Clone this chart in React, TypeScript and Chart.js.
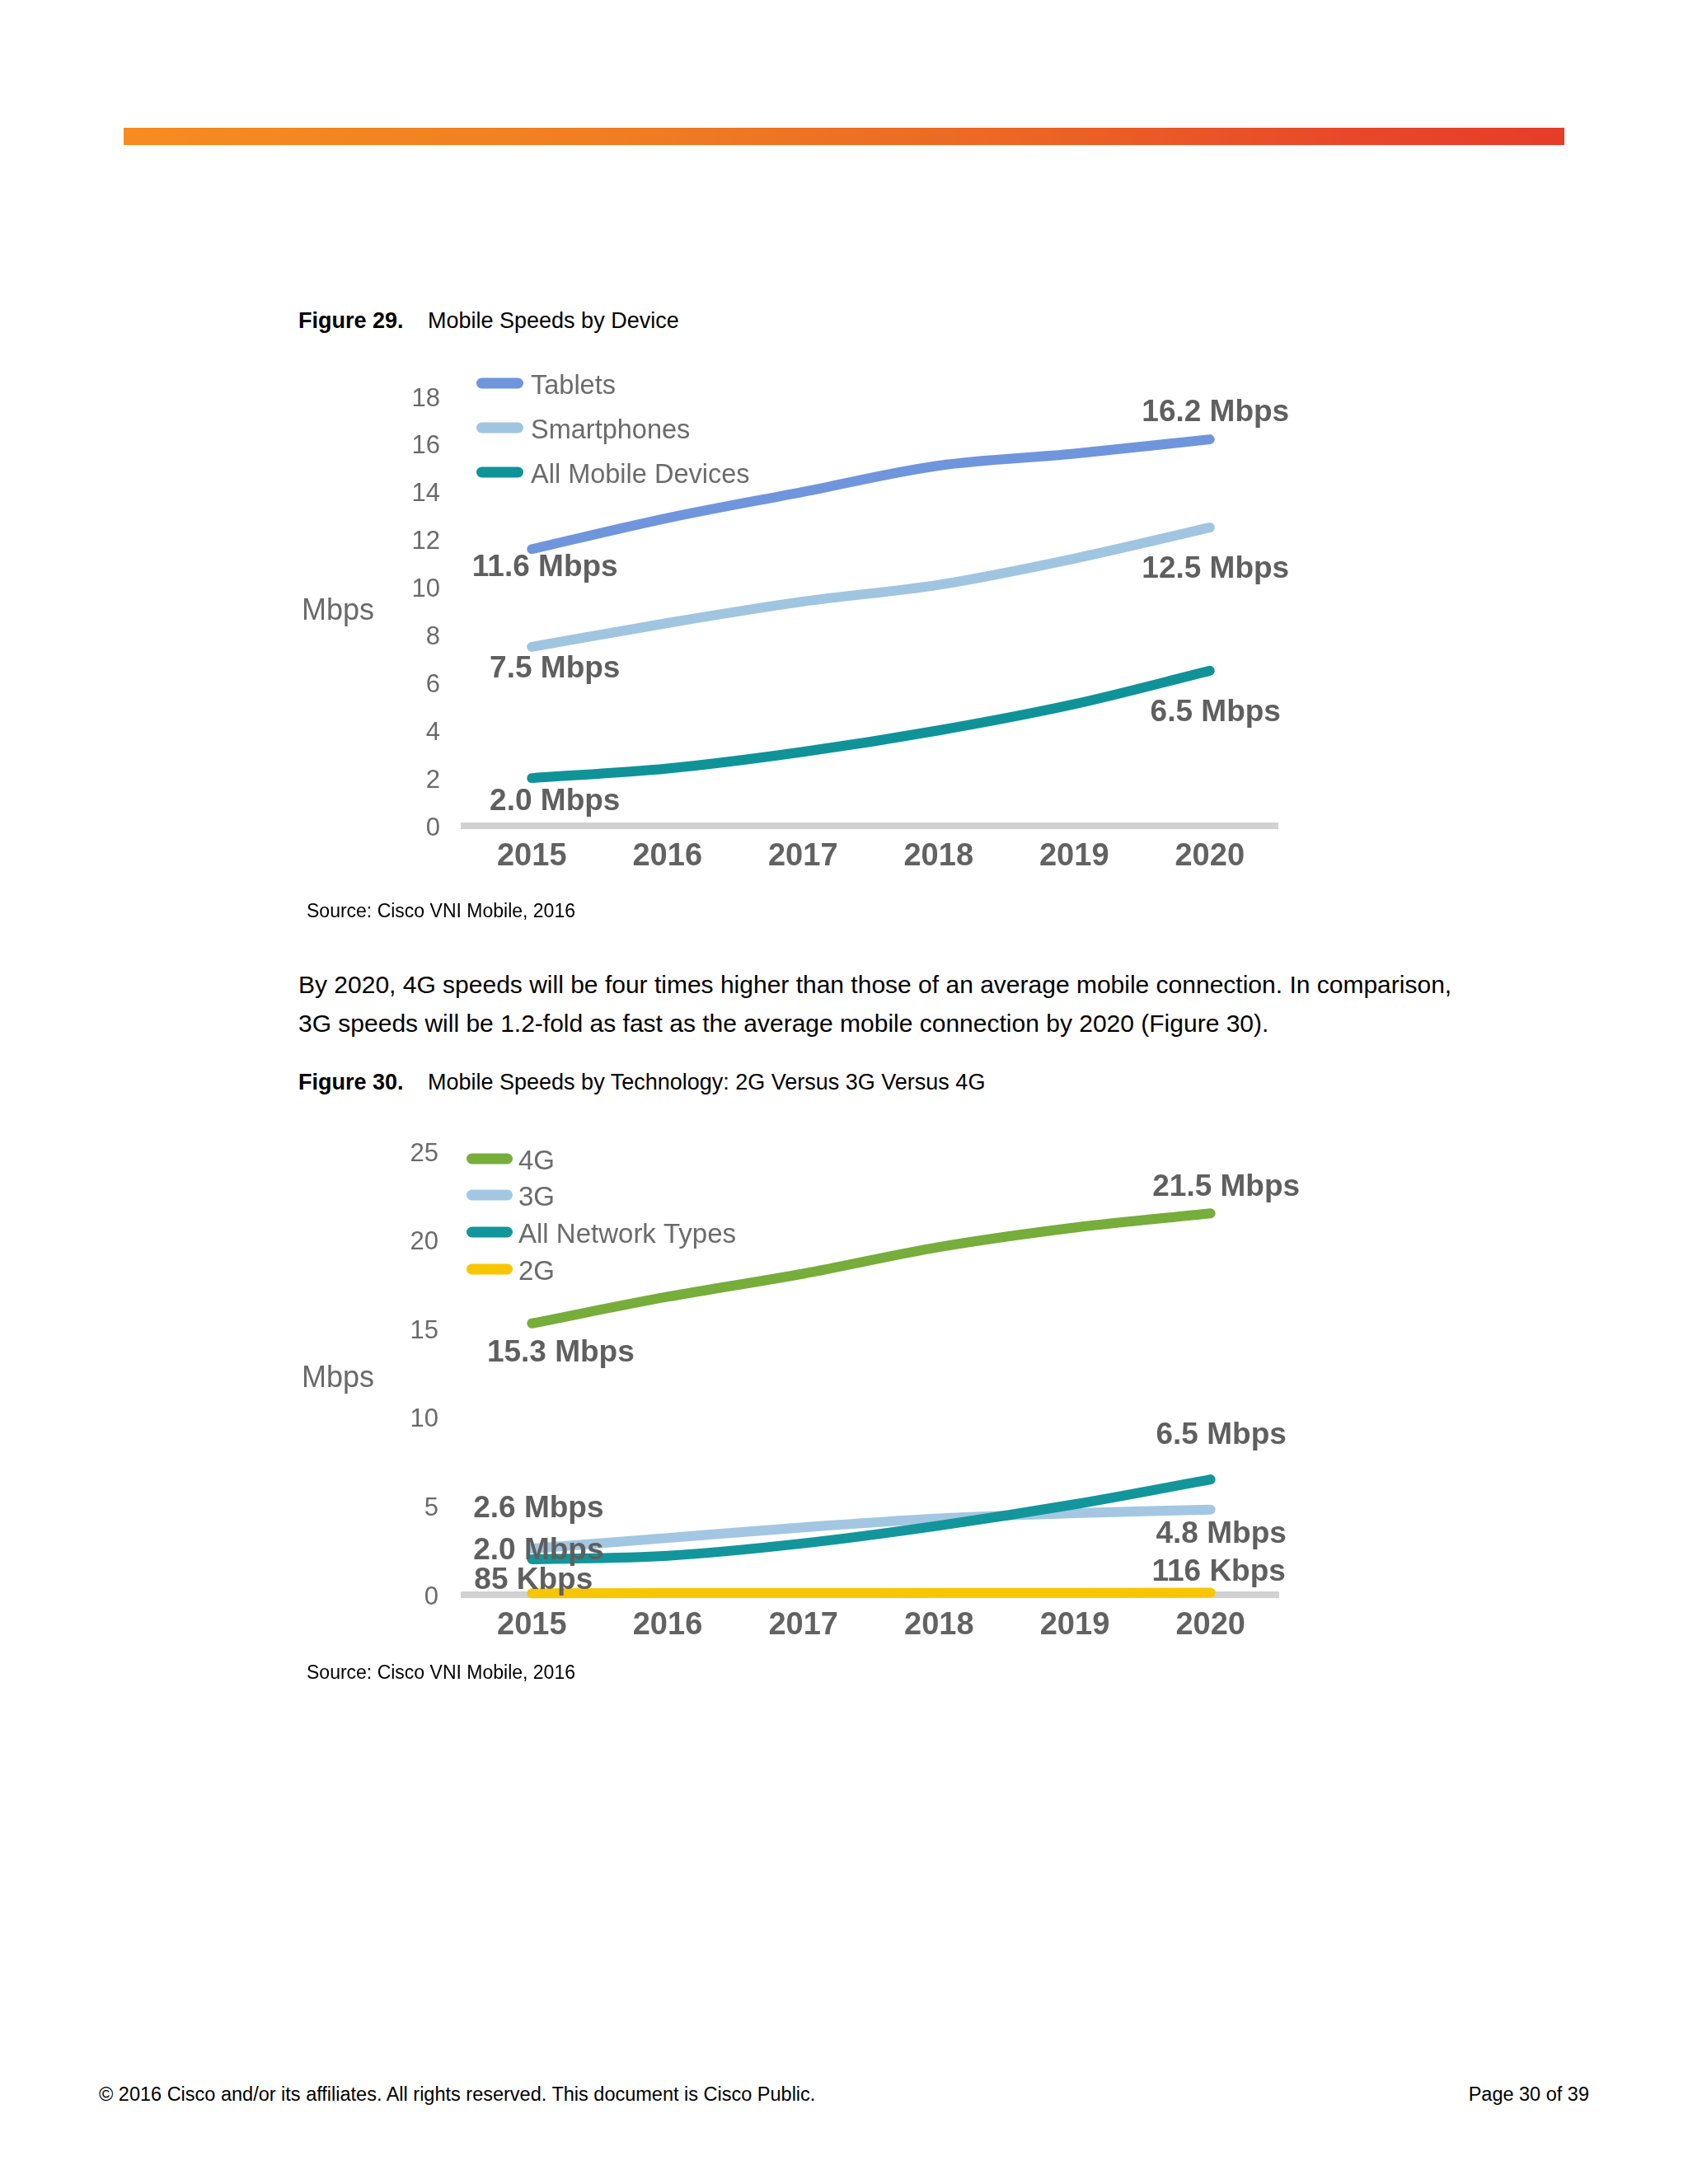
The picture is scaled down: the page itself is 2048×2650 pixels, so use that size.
import React, { useEffect, useRef } from 'react';
import { Chart, registerables } from 'chart.js';

Chart.register(...registerables);

// ---------- DATA ----------
const years = ['2015', '2016', '2017', '2018', '2019', '2020'];

// Figure 29 – Mobile speeds by device (Mbps)
const tablets = [11.6, 12.9, 14.0, 15.1, 15.6, 16.2];
const smartphones = [7.5, 8.5, 9.4, 10.1, 11.2, 12.5];
const allMobileDevices = [2.0, 2.4, 3.1, 4.0, 5.1, 6.5];
const deviceNames = ['Tablets', 'Smartphones', 'All Mobile Devices'];
const deviceStartLabels = ['11.6 Mbps', '7.5 Mbps', '2.0 Mbps'];
const deviceEndLabels = ['16.2 Mbps', '12.5 Mbps', '6.5 Mbps'];
const deviceYMax = 18;
const deviceYStep = 2;

// Figure 30 – Mobile speeds by technology (Mbps)
const speeds4G = [15.3, 16.8, 18.1, 19.6, 20.7, 21.5];
const speeds3G = [2.6, 3.2, 3.8, 4.3, 4.6, 4.8];
const allNetworkTypes = [2.0, 2.2, 2.9, 3.9, 5.1, 6.5];
const speeds2G = [0.085, 0.09, 0.095, 0.1, 0.108, 0.116];
const techNames = ['4G', '3G', 'All Network Types', '2G'];
const techStartLabels = ['15.3 Mbps', '2.6 Mbps', '2.0 Mbps', '85 Kbps'];
const techEndLabels = ['21.5 Mbps', '4.8 Mbps', '6.5 Mbps', '116 Kbps'];
const techYMax = 25;
const techYStep = 5;

const axisTitle = 'Mbps';

// ---------- STYLES ----------
const FONT = '"Liberation Sans", Arial, Helvetica, sans-serif';

type SeriesDef = {
  name: string;
  data: number[];
  color: string;
  order: number;
  start: string;
  end: string;
  startOff: [number, number];
  endOff: [number, number];
};

type ChartProps = {
  left: number;
  top: number;
  width: number;
  height: number;
  series: SeriesDef[];
  yMax: number;
  yStep: number;
  yAxisWidth: number;
  xAxisHeight: number;
  padTop: number;
  padRight: number;
  yTickPadding: number;
  legend: { x1: number; x2: number; textX: number; rows: number[]; font: number };
  titlePos: [number, number];
};

function SpeedChart(props: ChartProps) {
  const ref = useRef<HTMLCanvasElement | null>(null);
  useEffect(() => {
    if (!ref.current) return;
    const p = props;
    const overlay = {
      id: 'overlay',
      afterDatasetsDraw(chart: any) {
        const ctx = chart.ctx;
        const xs = chart.scales.x;
        const ys = chart.scales.y;
        ctx.save();
        // endpoint labels
        ctx.font = `bold 37px ${FONT}`;
        ctx.fillStyle = '#5f5f5f';
        ctx.textAlign = 'center';
        ctx.textBaseline = 'middle';
        p.series.forEach((s) => {
          const n = s.data.length - 1;
          ctx.fillText(
            s.start,
            xs.getPixelForValue(0) + s.startOff[0],
            ys.getPixelForValue(s.data[0]) + s.startOff[1]
          );
          ctx.fillText(
            s.end,
            xs.getPixelForValue(n) + s.endOff[0],
            ys.getPixelForValue(s.data[n]) + s.endOff[1]
          );
        });
        // legend
        ctx.font = `${p.legend.font}px ${FONT}`;
        ctx.fillStyle = '#6b6b6b';
        ctx.textAlign = 'left';
        ctx.lineCap = 'round';
        ctx.lineWidth = 13;
        p.series.forEach((s, i) => {
          const y = p.legend.rows[i];
          ctx.strokeStyle = s.color;
          ctx.beginPath();
          ctx.moveTo(p.legend.x1, y);
          ctx.lineTo(p.legend.x2, y);
          ctx.stroke();
          ctx.fillText(s.name, p.legend.textX, y + 4);
        });
        // axis title (horizontal)
        ctx.font = `36px ${FONT}`;
        ctx.fillStyle = '#6a6a6a';
        ctx.textAlign = 'center';
        ctx.fillText(axisTitle, p.titlePos[0], p.titlePos[1]);
        ctx.restore();
      },
    };

    const chart = new Chart(ref.current, {
      type: 'line',
      data: {
        labels: years,
        datasets: p.series.map((s) => ({
          label: s.name,
          data: s.data,
          borderColor: s.color,
          backgroundColor: s.color,
          borderWidth: 12,
          pointRadius: 0,
          pointHoverRadius: 0,
          cubicInterpolationMode: 'monotone' as const,
          borderCapStyle: 'round' as const,
          borderJoinStyle: 'round' as const,
          fill: false,
          clip: false as any,
          order: s.order,
        })),
      },
      options: {
        responsive: false,
        animation: false,
        devicePixelRatio: 1,
        events: [],
        layout: { padding: { left: 0, right: p.padRight, top: p.padTop, bottom: 0 } },
        plugins: {
          legend: { display: false },
          tooltip: { enabled: false },
          title: { display: false },
        },
        scales: {
          x: {
            type: 'category',
            offset: true,
            grid: { display: false, drawTicks: false },
            border: { display: true, color: '#d1d1d1', width: 8 },
            ticks: {
              color: '#626262',
              padding: 15,
              font: { family: FONT, size: 38, weight: 'bold' },
              maxRotation: 0,
            },
            afterFit: (scale: any) => {
              scale.height = p.xAxisHeight;
            },
          },
          y: {
            min: 0,
            max: p.yMax,
            grid: { display: false, drawTicks: false },
            border: { display: false },
            ticks: {
              stepSize: p.yStep,
              color: '#6a6a6a',
              padding: p.yTickPadding,
              labelOffset: 3,
              font: { family: FONT, size: 31 },
            },
            afterFit: (scale: any) => {
              scale.width = p.yAxisWidth;
            },
          },
        },
      },
      plugins: [overlay],
    } as any);
    return () => chart.destroy();
  }, []);

  return (
    <canvas
      ref={ref}
      width={props.width}
      height={props.height}
      style={{
        position: 'absolute',
        left: props.left,
        top: props.top,
        width: props.width,
        height: props.height,
      }}
    />
  );
}

const deviceSeries: SeriesDef[] = [
  {
    name: deviceNames[0], data: tablets, color: '#6f96dc', order: 0,
    start: deviceStartLabels[0], end: deviceEndLabels[0], startOff: [16, 23], endOff: [7, -32],
  },
  {
    name: deviceNames[1], data: smartphones, color: '#a0c5e0', order: 1,
    start: deviceStartLabels[1], end: deviceEndLabels[1], startOff: [28, 27], endOff: [7, 51],
  },
  {
    name: deviceNames[2], data: allMobileDevices, color: '#0f9399', order: 2,
    start: deviceStartLabels[2], end: deviceEndLabels[2], startOff: [28, 29], endOff: [7, 51],
  },
];

const techSeries: SeriesDef[] = [
  {
    name: techNames[0], data: speeds4G, color: '#76ad3b', order: 2,
    start: techStartLabels[0], end: techEndLabels[0], startOff: [35, 36], endOff: [19, -32],
  },
  {
    name: techNames[1], data: speeds3G, color: '#a3c7e2', order: 3,
    start: techStartLabels[1], end: techEndLabels[1], startOff: [8, -48], endOff: [13, 30],
  },
  {
    name: techNames[2], data: allNetworkTypes, color: '#12969b', order: 0,
    start: techStartLabels[2], end: techEndLabels[2], startOff: [8, -10], endOff: [13, -53],
  },
  {
    name: techNames[3], data: speeds2G, color: '#f7c600', order: 1,
    start: techStartLabels[3], end: techEndLabels[3], startOff: [2, -15], endOff: [10, -25],
  },
];

const textBase: React.CSSProperties = {
  position: 'absolute',
  fontFamily: FONT,
  color: '#000',
  whiteSpace: 'nowrap',
  margin: 0,
};

export default function App() {
  return (
    <div
      style={{
        position: 'absolute',
        left: 0,
        top: 0,
        width: 2048,
        height: 2650,
        background: '#ffffff',
        overflow: 'hidden',
      }}
    >
      <div
        style={{
          position: 'absolute',
          left: 150,
          top: 155,
          width: 1748,
          height: 21,
          background: 'linear-gradient(to right, #f68c20 0%, #f07d22 35%, #ec6824 60%, #e8482a 85%, #e63c2a 100%)',
        }}
      />

      <div style={{ ...textBase, left: 362, top: 373, fontSize: 27, lineHeight: '32px', fontWeight: 'bold' }}>
        Figure 29.
      </div>
      <div style={{ ...textBase, left: 519, top: 373, fontSize: 27, lineHeight: '32px' }}>
        Mobile Speeds by Device
      </div>

      <SpeedChart
        left={340}
        top={420}
        width={1300}
        height={680}
        series={deviceSeries}
        yMax={deviceYMax}
        yStep={deviceYStep}
        yAxisWidth={223}
        xAxisHeight={98}
        padTop={61}
        padRight={90}
        yTickPadding={29}
        legend={{ x1: 244.5, x2: 288.5, textX: 304, rows: [45, 99, 153], font: 32.5 }}
        titlePos={[70, 322]}
      />

      <div style={{ ...textBase, left: 372, top: 1090, fontSize: 23, lineHeight: '30px' }}>
        Source: Cisco VNI Mobile, 2016
      </div>

      <div style={{ ...textBase, left: 362, top: 1171, fontSize: 30, lineHeight: '47px' }}>
        By 2020, 4G speeds will be four times higher than those of an average mobile connection. In comparison,
        <br />
        3G speeds will be 1.2-fold as fast as the average mobile connection by 2020 (Figure 30).
      </div>

      <div style={{ ...textBase, left: 362, top: 1297, fontSize: 27, lineHeight: '32px', fontWeight: 'bold' }}>
        Figure 30.
      </div>
      <div style={{ ...textBase, left: 519, top: 1297, fontSize: 27, lineHeight: '32px' }}>
        Mobile Speeds by Technology: 2G Versus 3G Versus 4G
      </div>

      <SpeedChart
        left={340}
        top={1340}
        width={1300}
        height={680}
        series={techSeries}
        yMax={techYMax}
        yStep={techYStep}
        yAxisWidth={223}
        xAxisHeight={85}
        padTop={57}
        padRight={89}
        yTickPadding={31}
        legend={{ x1: 232.5, x2: 275.5, textX: 289, rows: [66, 110, 155, 200], font: 33 }}
        titlePos={[70, 333]}
      />

      <div style={{ ...textBase, left: 372, top: 2014, fontSize: 23, lineHeight: '30px' }}>
        Source: Cisco VNI Mobile, 2016
      </div>

      <div style={{ ...textBase, left: 120, top: 2526, fontSize: 23.5, lineHeight: '30px' }}>
        © 2016 Cisco and/or its affiliates. All rights reserved. This document is Cisco Public.
      </div>
      <div style={{ ...textBase, left: 1628, width: 300, top: 2526, fontSize: 23.5, lineHeight: '30px', textAlign: 'right' }}>
        Page 30 of 39
      </div>
    </div>
  );
}
